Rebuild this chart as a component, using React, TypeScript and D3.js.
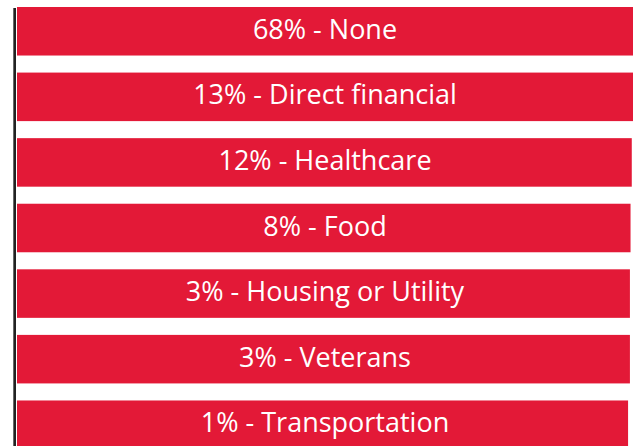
import React from "react";
import * as d3 from "d3";

const categories = ["None", "Direct financial", "Healthcare", "Food", "Housing or Utility", "Veterans", "Transportation"];
const percents = [68, 13, 12, 8, 3, 3, 1];
// drawn bar lengths (relative, the bars are nearly equal in length)
const barLength = [100, 100, 99.8, 99.6, 99.5, 99.5, 99.2];

const W = 637;
const H = 446;

export default function App() {
  const x = d3.scaleLinear().domain([0, 100]).range([17, 633]);
  const y = d3.scaleBand<string>().domain(categories).range([7, 449]).paddingInner(0.26).paddingOuter(0);
  const bh = y.bandwidth();
  return (
    <svg width={W} height={H} style={{ position: "absolute", left: 0, top: 0, display: "block" }}>
      <defs>
        <linearGradient id="ax" x1="0" x2="1" y1="0" y2="0">
          <stop offset="0" stopColor="#9a9a9a" />
          <stop offset="0.4" stopColor="#222" />
          <stop offset="1" stopColor="#222" />
        </linearGradient>
      </defs>
      {categories.map((c, i) => (
        <g key={c}>
          <rect x={x(0)} y={y(c)} width={x(barLength[i]) - x(0)} height={bh} fill="#E31937" />
          <text
            x={(x(0) + x(100)) / 2}
            y={(y(c) as number) + bh / 2 + 7.5}
            textAnchor="middle"
            fill="#fff"
            fontFamily="'Open Sans', Arial, sans-serif"
            fontSize={27}
          >
            {`${percents[i]}% - ${c}`}
          </text>
        </g>
      ))}
      <rect x={13} y={8} width={3} height={H - 8} fill="url(#ax)" />
    </svg>
  );
}
